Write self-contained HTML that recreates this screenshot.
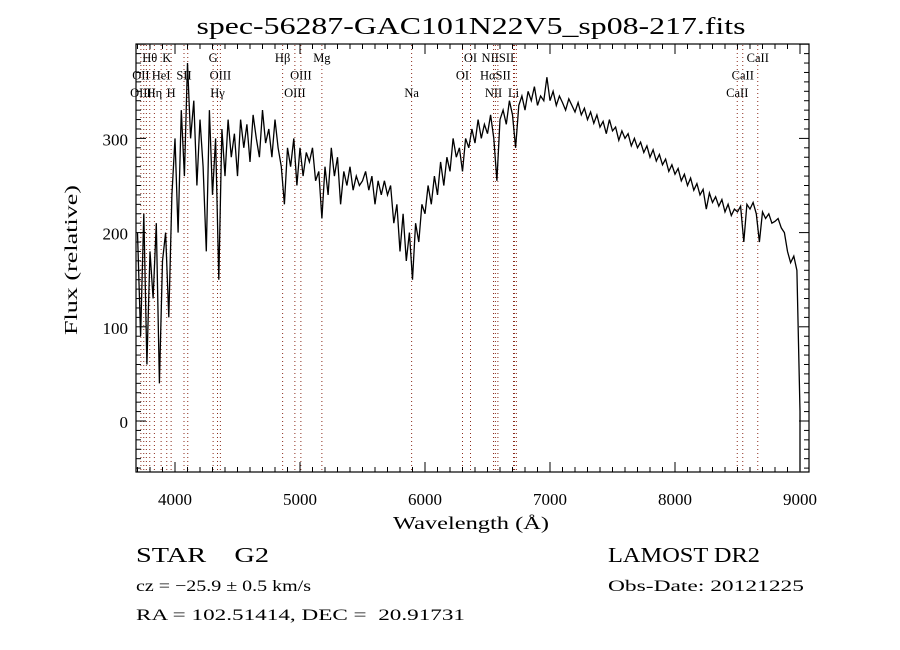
<!DOCTYPE html>
<html><head><meta charset="utf-8"><style>
html,body{margin:0;padding:0;background:#fff;}
svg{display:block;}
text{font-family:"Liberation Serif",serif;fill:#000;white-space:pre;}
</style></head><body>
<svg id="chart" width="900" height="650" xmlns="http://www.w3.org/2000/svg">
<rect x="0" y="0" width="900" height="650" fill="#fff"/>
<text x="471" y="34" font-size="24" text-anchor="middle" textLength="549" lengthAdjust="spacingAndGlyphs">spec-56287-GAC101N22V5_sp08-217.fits</text>
<g id="lines"></g>
<g id="labels"></g>
<path id="spec" fill="none" stroke="#000" stroke-width="1.3"/>
<rect x="136" y="44" width="673" height="428" fill="none" stroke="#000" stroke-width="1.2"/>
<g id="ticks"></g>
<text x="471" y="529" font-size="18" text-anchor="middle" textLength="156" lengthAdjust="spacingAndGlyphs">Wavelength (Å)</text>
<text transform="translate(77,260) rotate(-90)" font-size="18" text-anchor="middle" textLength="150" lengthAdjust="spacingAndGlyphs">Flux (relative)</text>
<text x="136" y="562" font-size="21" textLength="133" lengthAdjust="spacingAndGlyphs" xml:space="preserve">STAR    G2</text>
<text x="608" y="562" font-size="21" textLength="152" lengthAdjust="spacingAndGlyphs">LAMOST DR2</text>
<text x="136" y="591" font-size="16" textLength="175" lengthAdjust="spacingAndGlyphs">cz = −25.9 ± 0.5 km/s</text>
<text x="608" y="591" font-size="16" textLength="196" lengthAdjust="spacingAndGlyphs">Obs-Date: 20121225</text>
<text x="136" y="620" font-size="16" textLength="329" lengthAdjust="spacingAndGlyphs" xml:space="preserve">RA = 102.51414, DEC =  20.91731</text>
</svg>
<script>
const waveStart = 3700;
const waveStep = 25;
const flux = [
200,90,220,60, 180,130,210,40, 170,200,110,240, 300,200,330,260,
380,300,340,250, 320,270,180,330, 240,300,150,310, 260,320,280,305,
260,320,290,315, 275,325,300,280, 330,295,310,280, 320,290,270,230,
290,270,300,250, 290,260,285,275, 290,255,265,215, 270,240,290,260,
280,230,265,250, 270,245,260,250, 255,265,245,260, 230,255,240,255,
240,250,210,230, 180,220,170,200, 150,210,190,230, 220,250,230,260,
240,275,250,280, 265,300,280,290, 265,300,290,310, 295,320,300,315,
305,325,300,255, 320,330,315,340, 325,290,335,345, 330,350,340,355,
335,345,340,365, 340,350,335,345, 338,330,342,335, 328,338,325,332,
320,328,316,325, 312,318,305,320, 308,312,298,308, 300,305,292,300,
290,296,285,292, 280,288,276,283, 272,278,265,272, 262,268,255,262,
250,258,245,252, 240,246,225,242, 232,238,228,235, 222,230,218,225,
222,228,190,230, 225,232,220,190, 222,215,220,210, 212,215,205,200,
180,168,175,160, 10
];
const xTickValues = [4000,5000,6000,7000,8000,9000];
const yTickValues = [0,100,200,300];
const lineWaves = [3727,3750,3771,3798,3835,3889,3934,3969,4072,4102,4305,4340,4363,4861,4959,5007,5175,5893,6300,6364,6548,6563,6583,6708,6716,6731,8498,8542,8662];
const labelTexts = ["Hθ","K","G","Hβ","Mg","OI","NIISII","CaII","OII","HeI","SII","OIII","OIII","OI","HαSII","CaII","OIII","Hη","H","Hγ","OIII","Na","NII","Li","CaII"];
const labelWaves = [3798,3934,4305,4861,5175,6364,6583,8662,3727,3889,4072,4363,5007,6300,6563,8542,3727,3835,3969,4340,4959,5893,6548,6708,8498];
const labelRows = [0,0,0,0,0,0,0,0,1,1,1,1,1,1,1,1,2,2,2,2,2,2,2,2,2];

const NS="http://www.w3.org/2000/svg";
function xs(w){return 175+(w-4000)*0.125;}
function ys(f){return 421-f*0.942;}
function mk(tag,attrs,parent){const e=document.createElementNS(NS,tag);for(const k in attrs)e.setAttribute(k,attrs[k]);parent.appendChild(e);return e;}

let d="";
flux.forEach((f,i)=>{const w=waveStart+i*waveStep;d+=(i?"L":"M")+xs(w).toFixed(1)+","+ys(f).toFixed(1);});
d+="L"+xs(9000).toFixed(1)+","+ys(-53).toFixed(1);
document.getElementById("spec").setAttribute("d",d);

const lg=document.getElementById("lines");
lineWaves.forEach(w=>{
  const l=mk("line",{x1:xs(w),x2:xs(w),y1:45,y2:471,stroke:"#8b2a1a","stroke-width":1,"stroke-dasharray":"1,3"},lg);
  
  
});
const lb=document.getElementById("labels");
labelTexts.forEach((t,i)=>{
  const e=mk("text",{x:xs(labelWaves[i]),y:62+labelRows[i]*17.5,"font-size":12.5,"text-anchor":"middle"},lb);
  e.textContent=t;
  
  
});

const tg=document.getElementById("ticks");
for(let w=3700;w<=9070;w+=100){
  const major=w%1000===0;const len=major?10:5;const x=xs(w);
  const a=mk("line",{x1:x,x2:x,y1:472,y2:472-len,stroke:"#000"},tg);
  
  
  const b=mk("line",{x1:x,x2:x,y1:44,y2:44+len,stroke:"#000"},tg);
  
  
}
for(let f=-50;f<=400;f+=10){
  const major=f%100===0;const len=major?10:5;const y=ys(f);
  const a=mk("line",{x1:136,x2:136+len,y1:y,y2:y,stroke:"#000"},tg);
  
  
  const b=mk("line",{x1:809,x2:809-len,y1:y,y2:y,stroke:"#000"},tg);
  
  
}
xTickValues.forEach(v=>{
  const t=mk("text",{x:xs(v),y:505,"font-size":17,"text-anchor":"middle","font-family":"Liberation Sans, sans-serif",textLength:34,lengthAdjust:"spacingAndGlyphs"},tg);
  t.textContent=String(v);
  
  
});
yTickValues.forEach(v=>{
  const t=mk("text",{x:128,y:ys(v)+7,"font-size":17,"text-anchor":"end","font-family":"Liberation Sans, sans-serif"},tg);
  t.textContent=String(v);
  
  
});
</script>
</body></html>
